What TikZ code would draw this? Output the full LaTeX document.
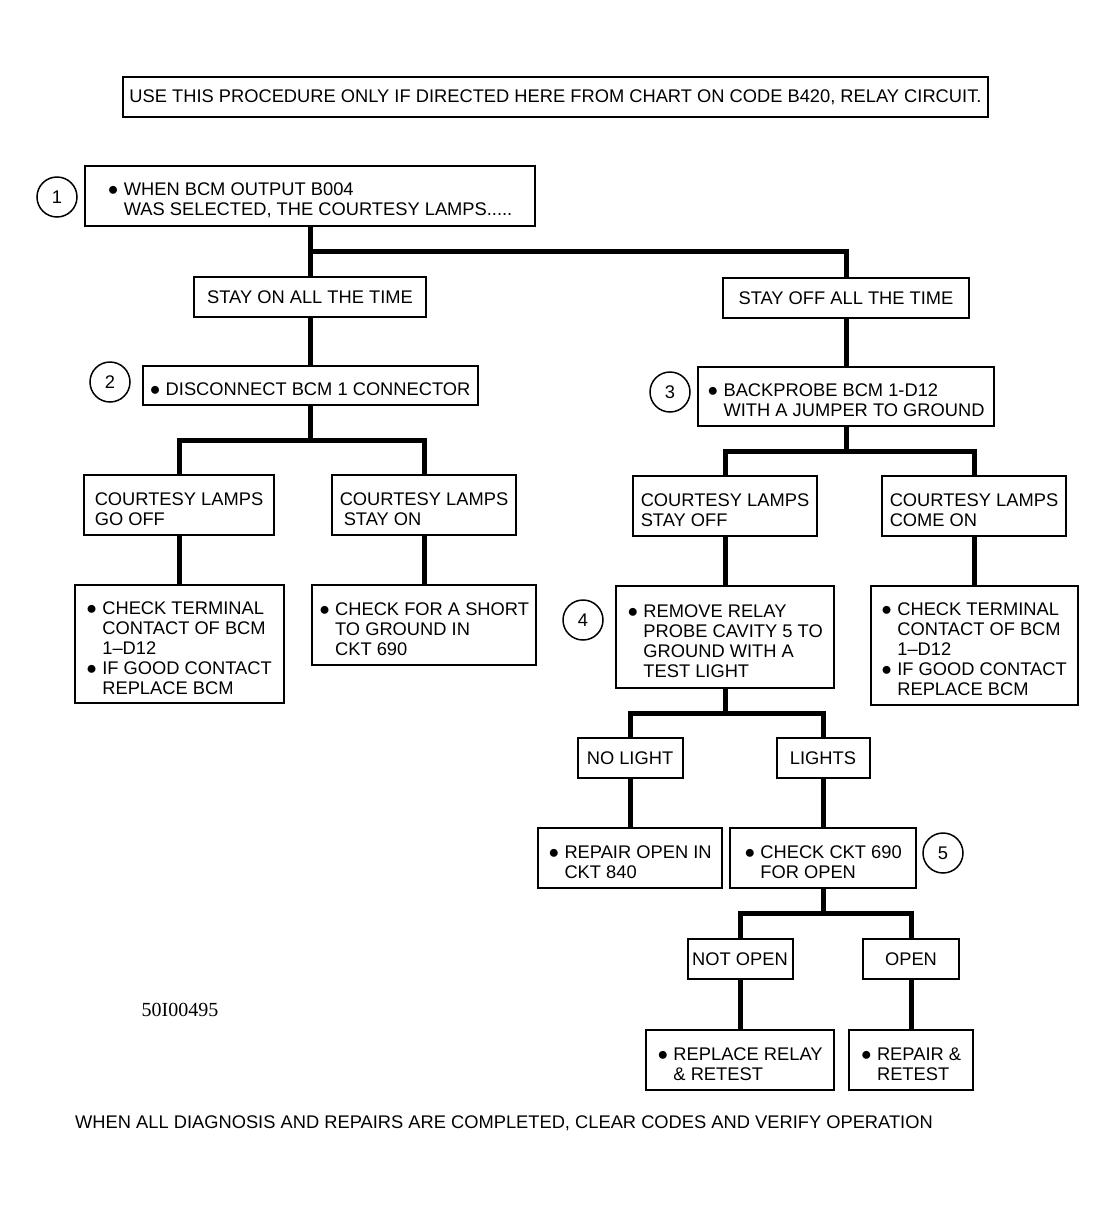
\documentclass[tikz,border=0pt]{standalone}
\usepackage{fontspec}
\setmainfont{Liberation Sans}
\newfontfamily\codefont{Liberation Serif}
\usepackage{tikz}
\usetikzlibrary{calc}
\usetikzlibrary{positioning}
\tikzstyle{box} = [draw, line width=1pt, inner xsep=2pt, inner ysep=2pt, minimum height=30pt, align=left]
\tikzstyle{tag} = [draw, line width=1pt, inner sep=2pt, minimum height=20pt, align=center]
\tikzstyle{num} = [draw, circle, line width=0.75pt, inner sep=0pt, minimum size=20pt]
\tikzstyle{link} = [-, line width=2.5pt]
\newcommand{\lead}{\rule{0pt}{10.4pt}}
\newcommand{\blt}{●\ }
\newcommand{\hng}{\phantom{●\ }}

\begin{document}
\begin{tikzpicture}[x=0.5pt, y=-0.5pt, every node/.style={font=\fontsize{9.15}{10}\selectfont}]
\useasboundingbox (0,0) rectangle (1116,1206);
\node [tag, minimum width=432.5pt] (use) at (555.5,97) {USE THIS PROCEDURE ONLY IF DIRECTED HERE FROM CHART ON CODE B420, RELAY CIRCUIT.};

\node [num] (s1) at (57,197) {1};
\node [box, minimum width=225pt] (lamps) at (310,196) {\lead\blt WHEN BCM OUTPUT B004\\\hng WAS SELECTED, THE COURTESY LAMPS.....};
\node [tag, minimum width=116pt] (on) at (310,297) {STAY ON ALL THE TIME};
\node [tag, minimum width=123pt] (off) at (846,298) {STAY OFF ALL THE TIME};

\node [num] (s2) at (110,382) {2};
\node [box, minimum width=167.5pt, minimum height=19.5pt] (disc) at (310,385.5) {\lead\blt DISCONNECT BCM 1 CONNECTOR};
\node [box, minimum width=95pt] (goff) at (179,505) {\lead COURTESY LAMPS\\GO OFF};
\node [box, minimum width=92pt] (son) at (424,505) {\lead COURTESY LAMPS\\\hspace*{2pt}STAY ON};
\node [box, minimum width=104.5pt, minimum height=59pt] (terml) at (179,644) {\lead\blt CHECK TERMINAL\\\hng CONTACT OF BCM\\\hng 1--D12\\\blt IF GOOD CONTACT\\\hng REPLACE BCM};
\node [box, minimum width=112pt, minimum height=40pt] (short) at (424,625) {\lead\blt CHECK FOR A SHORT\\\hng TO GROUND IN\\\hng CKT 690};

\node [num] (s3) at (670,392) {3};
\node [box, minimum width=148pt, minimum height=29.5pt] (probe) at (846,396.5) {\lead\blt BACKPROBE BCM 1-D12\\\hng WITH A JUMPER TO GROUND};
\node [box, minimum width=92pt] (soff) at (725,506) {\lead COURTESY LAMPS\\STAY OFF};
\node [box, minimum width=92pt] (con) at (974,506) {\lead COURTESY LAMPS\\COME ON};
\node [num] (s4) at (583,620) {4};
\node [box, minimum width=109pt, minimum height=51pt] (relay) at (725,637) {\lead\blt REMOVE RELAY\\\hng PROBE CAVITY 5 TO\\\hng GROUND WITH A\\\hng TEST LIGHT};
\node [box, minimum width=103.5pt, minimum height=59.5pt] (termr) at (974,645.5) {\lead\blt CHECK TERMINAL\\\hng CONTACT OF BCM\\\hng 1--D12\\\blt IF GOOD CONTACT\\\hng REPLACE BCM};

\node [tag, minimum width=52.5pt] (nol) at (630,758) {NO LIGHT};
\node [tag, minimum width=46.5pt] (lts) at (823,758) {LIGHTS};
\node [box, minimum width=92pt] (rep) at (630,858) {\lead\blt REPAIR OPEN IN\\\hng CKT 840};
\node [box, minimum width=93pt] (ckt) at (823,858) {\lead\blt CHECK CKT 690\\\hng FOR OPEN};
\node [num] (s5) at (943,853) {5};
\node [tag, minimum width=52.5pt] (nop) at (740,959) {NOT OPEN};
\node [tag, minimum width=48pt] (opn) at (911,959) {OPEN};
\node [box, minimum width=94pt] (rrl) at (740,1060) {\lead\blt REPLACE RELAY\\\hng\& RETEST};
\node [box, minimum width=62pt] (rrt) at (911,1060) {\lead\blt REPAIR \&\\\hng RETEST};

\node [font=\fontsize{10}{12}\selectfont\codefont] (fig) at (180,1010) {50I00495};
\node (done) at (504,1123) {WHEN ALL DIAGNOSIS AND REPAIRS ARE COMPLETED, CLEAR CODES AND VERIFY OPERATION};

\coordinate (j1) at ($(lamps.south)!.5!(on.north)$);
\coordinate (j2) at ($(disc.south)!.5!(goff.north)$);
\coordinate (j3) at ($(probe.south)!.5!(soff.north)$);
\coordinate (j4) at ($(relay.south)!.5!(nol.north)$);
\coordinate (j5) at ($(ckt.south)!.5!(nop.north)$);

\draw [link] (lamps.south) -- (lamps.south |- j1);
\draw [link] (on.north) |- (j1) -| (off.north);
\draw [link] (on.south) -- (disc.north);
\draw [link] (off.south) -- (probe.north);
\draw [link] (disc.south) -- (disc.south |- j2);
\draw [link] (goff.north) |- (j2) -| (son.north);
\draw [link] (goff.south) -- (terml.north);
\draw [link] (son.south) -- (short.north);
\draw [link] (probe.south) -- (probe.south |- j3);
\draw [link] (soff.north) |- (j3) -| (con.north);
\draw [link] (soff.south) -- (relay.north);
\draw [link] (con.south) -- (termr.north);
\draw [link] (relay.south) -- (relay.south |- j4);
\draw [link] (nol.north) |- (j4) -| (lts.north);
\draw [link] (nol.south) -- (rep.north);
\draw [link] (lts.south) -- (ckt.north);
\draw [link] (ckt.south) -- (ckt.south |- j5);
\draw [link] (nop.north) |- (j5) -| (opn.north);
\draw [link] (nop.south) -- (rrl.north);
\draw [link] (opn.south) -- (rrt.north);
\end{tikzpicture}
\end{document}
